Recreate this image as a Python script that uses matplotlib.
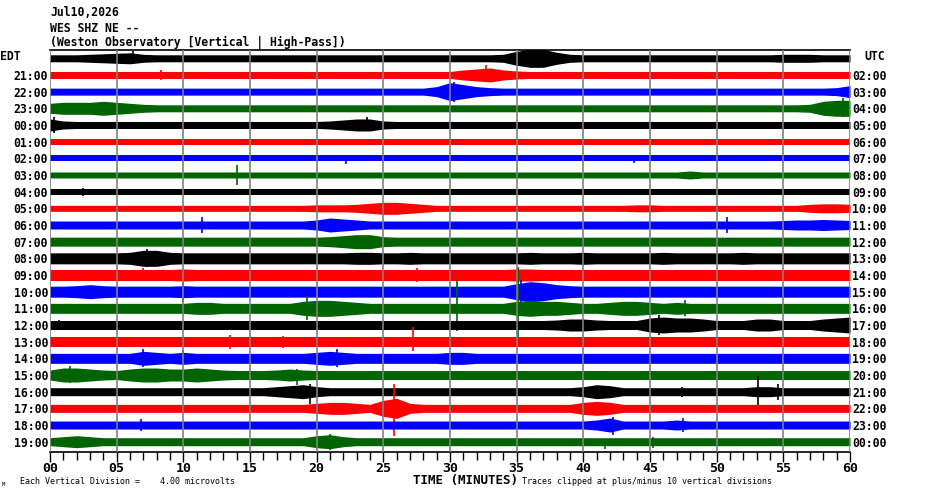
import matplotlib
matplotlib.use("Agg")
import matplotlib.pyplot as plt
import numpy as np

W, H = 930, 494

# ---------------- data (amplitudes in pixels) ----------------
edt_labels = ["", "21:00", "22:00", "23:00", "00:00", "01:00", "02:00", "03:00",
              "04:00", "05:00", "06:00", "07:00", "08:00", "09:00", "10:00", "11:00",
              "12:00", "13:00", "14:00", "15:00", "16:00", "17:00", "18:00", "19:00"]
utc_labels = ["", "02:00", "03:00", "04:00", "05:00", "06:00", "07:00", "08:00",
              "09:00", "10:00", "11:00", "12:00", "13:00", "14:00", "15:00", "16:00",
              "17:00", "18:00", "19:00", "20:00", "21:00", "22:00", "23:00", "00:00"]
trace_colors = ["#000000", "#ff0000", "#0000ff", "#006400"]
minute_ticks = [0, 5, 10, 15, 20, 25, 30, 35, 40, 45, 50, 55, 60]
minute_tick_labels = ["00", "05", "10", "15", "20", "25", "30", "35", "40", "45", "50", "55", "60"]

# base half-width per trace (px)
base_amp = [3.5, 3.5, 3.5, 3.5, 3.5, 3, 3, 3, 3, 3, 4, 4.5,
            5.5, 5.5, 5.5, 5, 4.5, 5, 5, 4.5, 4, 4, 4, 4]

# per-minute envelope values that differ from the base (minute: half-width px)
env_changes = [
    {3: 4, 4: 4.5, 5: 5, 6: 5.5, 7: 4, 34: 4, 35: 7, 36: 9, 37: 9, 38: 6, 39: 4, 55: 4, 56: 4, 57: 4},
    {31: 5, 32: 6, 33: 7, 34: 5, 35: 4},
    {29: 5, 30: 9, 31: 7, 32: 5, 33: 4, 59: 4, 60: 6},
    {0: 5, 1: 6, 2: 6, 3: 6, 4: 7, 5: 6, 6: 5, 7: 4, 57: 4, 58: 7, 59: 8, 60: 8},
    {0: 6, 1: 4, 21: 4, 22: 5, 23: 6, 24: 6, 25: 4},
    {},
    {},
    {48: 4},
    {},
    {20: 3.5, 21: 3.5, 22: 3.5, 23: 4, 24: 5, 25: 6, 26: 6, 27: 5, 28: 4, 44: 3.5, 45: 3.5,
     57: 4, 58: 4.5, 59: 4.5, 60: 4},
    {20: 5, 21: 7, 22: 6, 23: 5, 55: 4.5, 56: 5, 57: 5, 58: 5.5, 59: 5, 60: 4.5},
    {21: 5, 22: 6, 23: 7, 24: 7, 25: 5},
    {6: 6, 7: 8, 8: 8, 9: 6, 23: 6, 24: 6, 27: 6, 36: 6, 40: 6, 46: 6, 52: 6},
    {10: 6, 35: 6, 36: 6},
    {2: 6, 3: 7, 4: 6, 10: 6, 35: 8, 36: 10, 37: 9, 38: 7, 39: 6},
    {11: 6, 12: 6, 19: 7, 20: 8, 21: 8, 22: 7, 23: 6, 35: 7, 36: 8, 37: 7, 38: 7, 39: 6,
     42: 6, 43: 7, 44: 7, 45: 6, 47: 6},
    {38: 5, 39: 6, 40: 6, 41: 5, 45: 7, 46: 8, 47: 7, 48: 7, 49: 6, 53: 6, 54: 6, 58: 6, 59: 7, 60: 8},
    {},
    {6: 5, 7: 7, 8: 6, 10: 6, 20: 6, 21: 7, 22: 6, 30: 6, 31: 6},
    {0: 5, 1: 7, 2: 7, 3: 6, 4: 5, 6: 6, 7: 7, 8: 7, 9: 6, 10: 6, 11: 7, 12: 6, 13: 5,
     17: 5, 18: 6, 19: 5},
    {17: 5, 18: 6, 19: 7, 20: 5, 40: 5, 41: 7, 42: 6, 43: 4, 53: 5, 54: 5},
    {20: 5, 21: 6, 22: 6, 23: 5, 24: 4, 25: 8, 26: 10, 27: 5, 40: 6, 41: 7, 42: 6, 43: 4},
    {41: 5, 42: 7, 43: 4, 47: 5, 48: 4},
    {1: 5, 2: 6, 3: 5, 20: 6, 21: 7, 22: 5},
]

# isolated spikes per trace: (minute, up px, down px)
spikes = [
    [(36.6, 12, 10), (6.2, 7, 6)],
    [(32.7, 10, 6), (8.3, 5, 5)],
    [(30.3, 10, 10)],
    [(59.5, 10, 9)],
    [(0.3, 8, 8), (23.8, 8, 6)],
    [],
    [(22.2, 2, 6), (43.8, 2, 5)],
    [(14.0, 10, 10)],
    [(2.5, 4, 4)],
    [],
    [(11.4, 8, 8), (50.8, 8, 8)],
    [],
    [(7.3, 9, 9)],
    [(35.1, 8, 8), (27.5, 7, 7), (7.0, 7, 6)],
    [(10.0, 10, 10), (35.3, 12, 10)],
    [(19.3, 12, 12), (30.5, 28, 23), (35.1, 40, 30), (47.6, 8, 8)],
    [(45.7, 10, 10), (0.7, 5, 5)],
    [(27.2, 15, 9), (13.5, 7, 7), (17.5, 6, 6)],
    [(7.0, 9, 9), (21.5, 9, 9), (10.0, 8, 6)],
    [(18.5, 6, 10), (1.5, 9, 8)],
    [(19.5, 8, 12), (53.1, 16, 14), (54.6, 8, 8), (47.4, 5, 5)],
    [(25.8, 24, 28)],
    [(6.8, 6, 6), (42.2, 8, 10), (47.5, 7, 7)],
    [(41.6, 3, 7), (45.2, 5, 6), (21.0, 8, 8)],
]

# ---------------- figure ----------------
ROW_PX = 16.67
PX = 1.0 / ROW_PX

fig = plt.figure(figsize=(W / 100, H / 100), dpi=100)
ax_left, ax_right, ax_top, ax_bot = 50, 850, 50, 452
ax = fig.add_axes([ax_left / W, 1 - ax_bot / H, (ax_right - ax_left) / W, (ax_bot - ax_top) / H])

n = len(base_amp)
minutes = np.arange(61)
for i in range(n):
    env = np.array([max(env_changes[i].get(m, base_amp[i]), base_amp[i]) for m in minutes],
                   dtype=float) * PX
    col = trace_colors[i % 4]
    ax.fill_between(minutes, i - env, i + env, color=col, linewidth=0, zorder=2)
    for (t, up, dn) in spikes[i]:
        ax.vlines(t, i - up * PX, i + dn * PX, color=col, linewidth=1.2, zorder=2)

top_off = (58.3 - ax_top) / ROW_PX
bot_off = (ax_bot - 441.7) / ROW_PX
ax.set_ylim(n - 1 + bot_off, -top_off)
ax.set_xlim(0, 60)
ax.set_yticks([])

for m in minute_ticks:
    ax.axvline(m, color="#808080", linewidth=1.2, zorder=3)

ax.set_xticks(minute_ticks)
ax.set_xticklabels(minute_tick_labels, fontfamily="DejaVu Sans Mono", fontweight="bold", fontsize=9.5)
ax.set_xticks(np.arange(61), minor=True)
ax.tick_params(axis="x", which="major", direction="out", length=7, width=1, pad=0, colors="black")
ax.tick_params(axis="x", which="minor", direction="out", length=6, width=1)
ax.spines["left"].set_visible(False)
ax.spines["right"].set_visible(False)
ax.spines["top"].set_linewidth(1.2)
ax.spines["bottom"].set_linewidth(1.2)


def ftext(x, y, s, size, ha="left", weight="bold", **kw):
    fig.text(x / W, 1 - y / H, s, fontsize=size, ha=ha, va="center",
             fontfamily="DejaVu Sans Mono", fontweight=weight, **kw)


ftext(50, 12, "Jul10,2026", 8.3)
ftext(50, 28, "WES SHZ NE --", 8.3)
ftext(50, 42, "(Weston Observatory [Vertical | High-Pass])", 8.3)
ftext(0, 56, "EDT", 8.3)
ftext(864, 56, "UTC", 8.3)

for i in range(n):
    y = 58.3 + i * ROW_PX + 1.5
    if edt_labels[i]:
        ftext(48, y, edt_labels[i], 8.3, ha="right")
    if utc_labels[i]:
        ftext(852, y, utc_labels[i], 8.3, ha="left")

ftext(465, 480, "TIME (MINUTES)", 9, ha="center")
ftext(20, 481, "Each Vertical Division =    4.00 microvolts", 6, weight="normal")
ftext(522, 481, "Traces clipped at plus/minus 10 vertical divisions", 6, weight="normal")
ftext(2, 484, "M", 4, weight="normal")

fig.savefig("out.png", dpi=100)
